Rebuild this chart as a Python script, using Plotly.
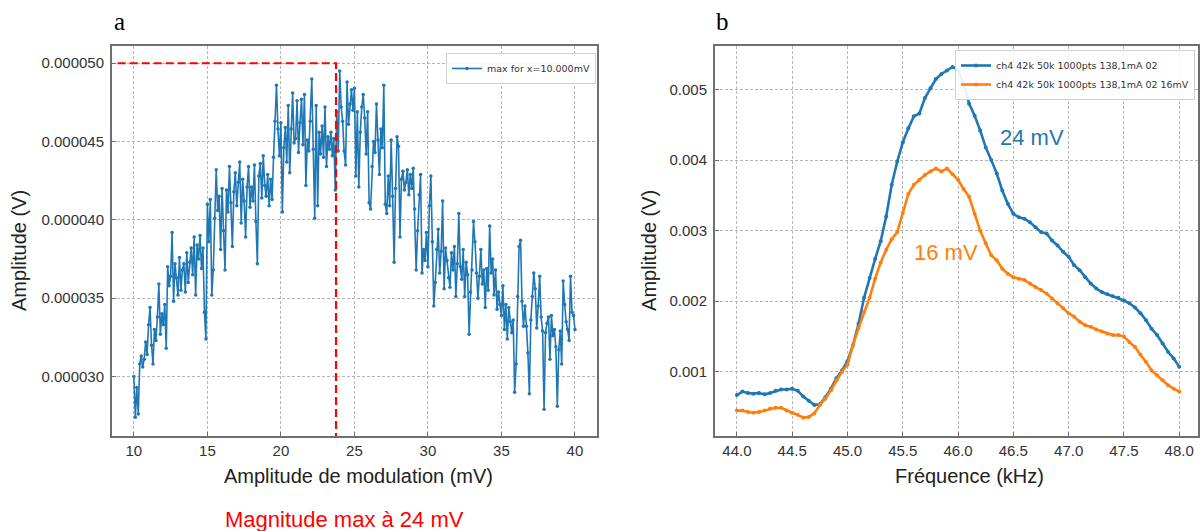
import plotly.graph_objects as go

# ---- panel a : max amplitude vs modulation amplitude (values in 1e-6 V) ----
mod_mv = [round(10 + 0.1 * i, 1) for i in range(301)]
amp_a_uv = [
    30.0, 27.4, 29.3, 27.6, 30.8, 31.3, 30.6, 31.1, 32.2, 31.4,
    33.3, 34.4, 32.0, 30.8, 33.0, 32.3, 33.8, 35.9, 32.7, 34.0,
    33.3, 34.6, 31.8, 37.0, 35.8, 36.4, 39.2, 34.8, 37.2, 36.3,
    35.2, 37.6, 35.5, 36.8, 37.2, 35.4, 37.9, 36.0, 37.3, 38.2,
    36.5, 38.9, 35.2, 38.4, 37.5, 39.0, 36.9, 38.2, 34.1, 32.4,
    41.0, 38.6, 41.3, 35.2, 36.8, 40.1, 43.2, 40.6, 41.5, 38.1,
    42.0, 39.3, 36.8, 41.9, 40.5, 43.4, 41.1, 38.3, 41.8, 43.0,
    40.9, 42.4, 43.7, 39.8, 42.6, 41.2, 38.9, 42.1, 43.4, 40.8,
    42.1, 41.2, 43.5, 39.9, 37.2, 42.8, 43.6, 41.4, 44.1, 42.2,
    41.5, 42.9, 40.9, 42.6, 41.3, 44.0, 46.3, 48.6, 45.8, 44.1,
    46.2, 40.5, 44.6, 45.9, 43.7, 47.3, 43.0, 45.8, 48.1, 44.9,
    45.2, 47.6, 44.3, 46.2, 47.7, 44.8, 48.0, 42.2, 45.1, 44.4,
    46.3, 49.0, 44.5, 40.1, 47.3, 40.9, 45.6, 44.2, 46.0, 44.0,
    47.2, 43.4, 45.3, 44.5, 45.6, 44.1, 45.2, 41.9, 46.9, 44.4,
    49.5, 47.2, 46.3, 44.4, 43.5, 48.8, 46.1, 47.4, 48.3, 47.0,
    48.4, 42.8, 46.9, 42.1, 45.6, 47.2, 48.0, 46.5, 44.2, 46.9,
    41.1, 40.7, 43.4, 45.0, 44.3, 47.4, 45.1, 42.9, 45.8, 44.6,
    48.6, 41.0, 40.4, 42.8, 40.9, 45.1, 41.5, 37.3, 42.0, 45.3,
    44.7, 38.9, 42.6, 43.1, 41.9, 42.4, 43.2, 41.6, 42.9, 42.0,
    43.3, 40.7, 36.8, 39.3, 41.6, 42.9, 36.6, 38.1, 37.4, 39.2,
    37.0, 40.9, 42.8, 38.6, 34.5, 36.0, 38.1, 39.4, 36.6, 38.0,
    41.2, 35.6, 38.2, 37.4, 36.3, 35.7, 37.9, 36.8, 38.3, 35.1,
    37.2, 40.4, 37.0, 36.2, 38.1, 35.1, 37.3, 36.5, 32.7, 35.4,
    36.8, 39.9, 38.6, 36.6, 35.0, 36.4, 38.1, 35.9, 36.8, 34.4,
    36.9, 35.5, 39.6, 36.6, 37.5, 35.2, 36.8, 34.3, 35.4, 34.6,
    33.9, 35.8, 33.0, 34.6, 32.4, 34.4, 33.5, 32.8, 33.6, 29.0,
    30.8, 35.1, 38.3, 38.7, 34.8, 33.2, 34.5, 33.2, 31.5, 28.9,
    33.6, 35.1, 36.6, 35.6, 33.1, 34.5, 36.4, 33.8, 32.9, 27.9,
    32.8, 33.4, 33.8, 31.1, 33.9, 32.6, 33.0, 31.9, 28.1, 31.7,
    32.9, 30.8, 36.1, 34.6, 33.5, 33.0, 32.3, 36.4, 34.1, 33.9,
    33.0,
]
amp_a = [v * 1e-6 for v in amp_a_uv]

# red marker of the maximum
max_x = [8.9, 23.75, 23.75]
max_y = [5.0e-5, 5.0e-5, 2.0e-5]

# ---- panel b : resonance curves (values in 1e-3 V) ----
freq_khz = [round(44 + 0.05 * i, 2) for i in range(81)]
amp_24mv = [
    0.67, 0.72, 0.70, 0.69, 0.70, 0.68, 0.70, 0.73, 0.75, 0.75,
    0.76, 0.73, 0.65, 0.59, 0.53, 0.54, 0.64, 0.76, 0.91, 1.02,
    1.15, 1.38, 1.68, 2.05, 2.33, 2.60, 2.85, 3.20, 3.65, 3.98,
    4.25, 4.45, 4.62, 4.66, 4.88, 5.02, 5.15, 5.22, 5.27, 5.32,
    5.28, 5.08, 4.80, 4.63, 4.42, 4.18, 4.00, 3.81, 3.57, 3.38,
    3.24, 3.19, 3.17, 3.12, 3.05, 2.98, 2.96, 2.86, 2.79, 2.70,
    2.63, 2.51, 2.44, 2.34, 2.25, 2.18, 2.13, 2.10, 2.07, 2.05,
    2.01, 1.97, 1.91, 1.83, 1.73, 1.61, 1.52, 1.40, 1.28, 1.19,
    1.07,
]
amp_16mv = [
    0.45, 0.45, 0.43, 0.42, 0.43, 0.45, 0.48, 0.49, 0.49, 0.45,
    0.42, 0.39, 0.35, 0.36, 0.41, 0.53, 0.62, 0.74, 0.88, 1.00,
    1.10, 1.38, 1.62, 1.85, 2.05, 2.32, 2.55, 2.73, 2.88, 2.98,
    3.25, 3.52, 3.65, 3.72, 3.79, 3.84, 3.88, 3.84, 3.88, 3.80,
    3.72, 3.59, 3.48, 3.24, 3.00, 2.82, 2.65, 2.58, 2.46, 2.39,
    2.34, 2.32, 2.30, 2.25, 2.20, 2.16, 2.11, 2.04, 1.97, 1.90,
    1.83, 1.78, 1.71, 1.66, 1.64, 1.60, 1.57, 1.54, 1.52, 1.52,
    1.50, 1.42, 1.35, 1.24, 1.14, 1.02, 0.95, 0.88, 0.81, 0.76,
    0.72,
]
amp_b1 = [v * 1e-3 for v in amp_24mv]
amp_b2 = [v * 1e-3 for v in amp_16mv]

BLUE = '#1f77b4'
ORANGE = '#ff7f0e'
W, H = 1200, 531


def px(x):
    return x / W


def py(y):
    return 1 - y / H


fig = go.Figure()

fig.add_trace(go.Scatter(
    x=mod_mv, y=amp_a, mode='lines+markers', name='max for x=10.000mV',
    line=dict(color=BLUE, width=1.6), marker=dict(size=3.5, color=BLUE),
    xaxis='x', yaxis='y', legend='legend'))
fig.add_trace(go.Scatter(
    x=max_x, y=max_y, mode='lines', showlegend=False,
    line=dict(color='#ff0000', width=2.2, dash='8px,4px'),
    xaxis='x', yaxis='y'))

fig.add_trace(go.Scatter(
    x=freq_khz, y=amp_b1, mode='lines+markers',
    name='ch4 42k 50k 1000pts 138,1mA 02',
    line=dict(color=BLUE, width=2.6), marker=dict(size=4, color=BLUE),
    xaxis='x2', yaxis='y2', legend='legend2'))
fig.add_trace(go.Scatter(
    x=freq_khz, y=amp_b2, mode='lines+markers',
    name='ch4 42k 50k 1000pts 138,1mA 02 16mV',
    line=dict(color=ORANGE, width=2.6), marker=dict(size=4, color=ORANGE),
    xaxis='x2', yaxis='y2', legend='legend2'))

axis_common = dict(
    showline=True, mirror=True, linecolor='#6e6e6e', linewidth=1.5,
    ticks='inside', ticklen=4, tickcolor='#6e6e6e',
    showgrid=True, gridcolor='#b5b5b5', gridwidth=1, griddash='3px,2px',
    zeroline=False, tickfont=dict(family='Liberation Sans', size=15, color='#333333'),
)
ydom = [py(436), py(46)]

fig.update_layout(
    width=W, height=H,
    margin=dict(l=0, r=0, t=0, b=0),
    paper_bgcolor='white', plot_bgcolor='white',
    font=dict(family='Liberation Sans', color='#222222'),
    xaxis=dict(axis_common, domain=[px(112), px(598)], range=[8.5, 41.5],
               tickvals=[10, 15, 20, 25, 30, 35, 40], anchor='y'),
    yaxis=dict(axis_common, domain=ydom, range=[2.62e-5, 5.11e-5],
               tickvals=[3.0e-5, 3.5e-5, 4.0e-5, 4.5e-5, 5.0e-5],
               tickformat='.6f', anchor='x', ticklabelstandoff=3),
    xaxis2=dict(axis_common, domain=[px(716), 1.0], range=[43.8, 48.17],
                tickvals=[44.0, 44.5, 45.0, 45.5, 46.0, 46.5, 47.0, 47.5, 48.0],
                tickformat='.1f', anchor='y2'),
    yaxis2=dict(axis_common, domain=ydom, range=[0.00009, 0.005617],
                tickvals=[0.001, 0.002, 0.003, 0.004, 0.005],
                tickformat='.3f', anchor='x2', ticklabelstandoff=3),
    legend=dict(x=px(597), y=py(53), xanchor='right', yanchor='top',
                bgcolor='rgba(255,255,255,0.9)', bordercolor='#d0d0d0', borderwidth=1,
                font=dict(family='DejaVu Sans', size=9.5, color='#333333'),
                itemwidth=30, tracegroupgap=0),
    legend2=dict(x=px(1197), y=py(50), xanchor='right', yanchor='top',
                 bgcolor='rgba(255,255,255,0.9)', bordercolor='#d0d0d0', borderwidth=1,
                 font=dict(family='DejaVu Sans', size=9.5, color='#333333'),
                 itemwidth=30, tracegroupgap=0),
    showlegend=True,
)

annots = [
    dict(text='a', x=px(112), y=py(22), xanchor='left', yanchor='middle',
         font=dict(family='Liberation Serif', size=25, color='#000000')),
    dict(text='b', x=px(715), y=py(22), xanchor='left', yanchor='middle',
         font=dict(family='Liberation Serif', size=25, color='#000000')),
    dict(text='Amplitude (V)', x=px(19), y=py(250), textangle=-90,
         font=dict(size=20, color='#222222')),
    dict(text='Amplitude (V)', x=px(650), y=py(250), textangle=-90,
         font=dict(size=20, color='#222222')),
    dict(text='Amplitude de modulation (mV)', x=px(359), y=py(476),
         font=dict(size=20, color='#222222')),
    dict(text='Fréquence (kHz)', x=px(971), y=py(476),
         font=dict(size=20, color='#222222')),
    dict(text='Magnitude max à 24 mV', x=px(345), y=py(519),
         font=dict(size=22, color='#ff0000')),
    dict(text='24 mV', x=px(1034), y=py(137),
         font=dict(size=22, color=BLUE)),
    dict(text='16 mV', x=px(948), y=py(252),
         font=dict(size=22, color=ORANGE)),
]
for a in annots:
    a.update(xref='paper', yref='paper', showarrow=False)
    a.setdefault('xanchor', 'center')
    a.setdefault('yanchor', 'middle')
fig.update_layout(annotations=annots)

# the page body has a default 8px margin; drop it so the figure fills the window
fig.write_html("out.html", config={'displayModeBar': False},
               post_script="document.body.style.margin='0px';")
